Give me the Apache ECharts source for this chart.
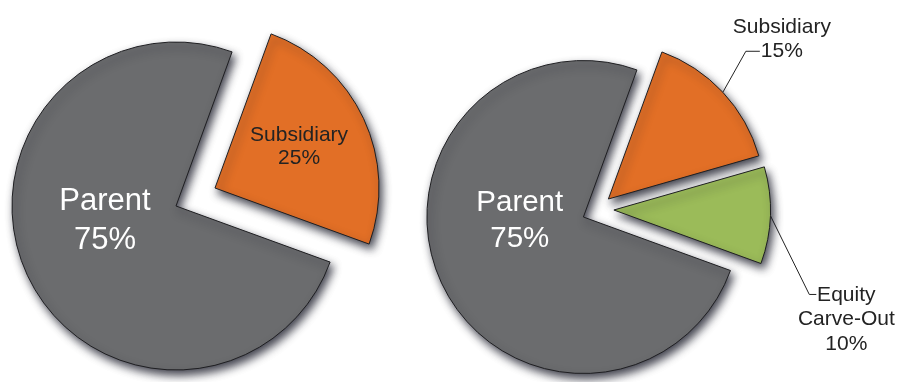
<!DOCTYPE html>
<html>
<head>
<meta charset="utf-8">
<script src="https://cdn.jsdelivr.net/npm/echarts@6/dist/echarts.min.js"></script>
<style>
  html, body { margin: 0; padding: 0; background: #ffffff; }
  #chart { width: 899px; height: 382px; }
</style>
</head>
<body>
<div id="chart"></div>
<script>
// Ownership split: before (left) and after (right) the equity carve-out
const leftCategories = ['Parent', 'Subsidiary'];
const leftValues = [75, 25];
const leftLabelNames = ['Parent', 'Subsidiary'];

const rightCategories = ['Parent', 'Subsidiary', 'Equity Carve-Out'];
const rightValues = [75, 15, 10];
const rightLabelNames = ['Parent', 'Subsidiary', 'Equity\nCarve-Out'];

const sliceColors = ['#6b6c6e', '#e26f26', '#9bbb59'];
const FONT = '"Liberation Sans", Arial, Helvetica, sans-serif';

// Layout of each pie: centre, radius, per-slice explode offset and label placement
const pies = [
  {
    cats: leftCategories, vals: leftValues, names: leftLabelNames,
    center: [176, 206], radius: 164,
    offsets: [[0, 0], [39, -18]],
    labels: [
      { inside: true, color: '#ffffff', size: 31, lh: 39, shift: [6, -21] },
      { inside: true, color: '#232323', size: 21, lh: 23, shift: [7, -5] }
    ]
  },
  {
    cats: rightCategories, vals: rightValues, names: rightLabelNames,
    center: [583.4, 217], radius: 156.5,
    offsets: [[0, 0], [25, -18], [30.5, -7]],
    labels: [
      { inside: true, color: '#ffffff', size: 29.5, lh: 36, shift: [10, -30] },
      { inside: false, color: '#232323', size: 21, lh: 24, at: [59, -53], line: [[23, -41], [37, -41]] },
      { inside: false, color: '#232323', size: 21, lh: 24.5, at: [76, 104], line: [[39, 79], [46, 79]] }
    ]
  }
];

const hiddenStyle = { color: 'rgba(0,0,0,0)', borderWidth: 0, shadowBlur: 0, shadowColor: 'rgba(0,0,0,0)' };

function sliceStyle(j) {
  return {
    color: sliceColors[j],
    borderColor: '#1f1f22',
    borderWidth: 1,
    shadowBlur: 8,
    shadowOffsetX: 3,
    shadowOffsetY: 5,
    shadowColor: 'rgba(22, 24, 38, 0.8)'
  };
}

const series = [];
pies.forEach(function (pie) {
  pie.vals.forEach(function (_, i) {
    const lab = pie.labels[i];
    series.push({
      type: 'pie',
      silent: true,
      animation: false,
      center: [pie.center[0] + pie.offsets[i][0], pie.center[1] + pie.offsets[i][1]],
      radius: pie.radius,
      startAngle: 340,
      clockwise: true,
      avoidLabelOverlap: false,
      emphasis: { disabled: true },
      z: 2 + i,
      label: {
        show: true,
        position: lab.inside ? 'inside' : 'outside',
        alignTo: 'none',
        formatter: function (p) { return pie.names[p.dataIndex] + '\n' + p.value + '%'; },
        color: lab.color,
        fontFamily: FONT,
        fontSize: lab.size,
        lineHeight: lab.lh,
        align: 'center',
        width: lab.inside ? null : 120,
        overflow: 'none'
      },
      labelLine: {
        show: !lab.inside,
        length: 10,
        length2: 10,
        lineStyle: { color: '#232323', width: 1 }
      },
      labelLayout: function (params) {
        if (params.dataIndex !== i) return {};
        if (lab.inside) {
          return { dx: lab.shift[0], dy: lab.shift[1] };
        }
        const pts = params.labelLinePoints;
        const a = pts[0];
        return {
          x: a[0] + lab.at[0],
          y: a[1] + lab.at[1],
          align: 'center',
          verticalAlign: 'middle',
          labelLinePoints: [
            [a[0], a[1]],
            [a[0] + lab.line[0][0], a[1] + lab.line[0][1]],
            [a[0] + lab.line[1][0], a[1] + lab.line[1][1]]
          ]
        };
      },
      data: pie.vals.map(function (v, j) {
        return {
          name: pie.cats[j],
          value: v,
          itemStyle: j === i ? sliceStyle(j) : hiddenStyle,
          label: { show: j === i },
          labelLine: { show: j === i && !lab.inside }
        };
      })
    });
  });
});

const chart = echarts.init(document.getElementById('chart'), null, { renderer: 'canvas' });
chart.setOption({
  backgroundColor: '#ffffff',
  animation: false,
  tooltip: { show: false },
  series: series
});
</script>
</body>
</html>
